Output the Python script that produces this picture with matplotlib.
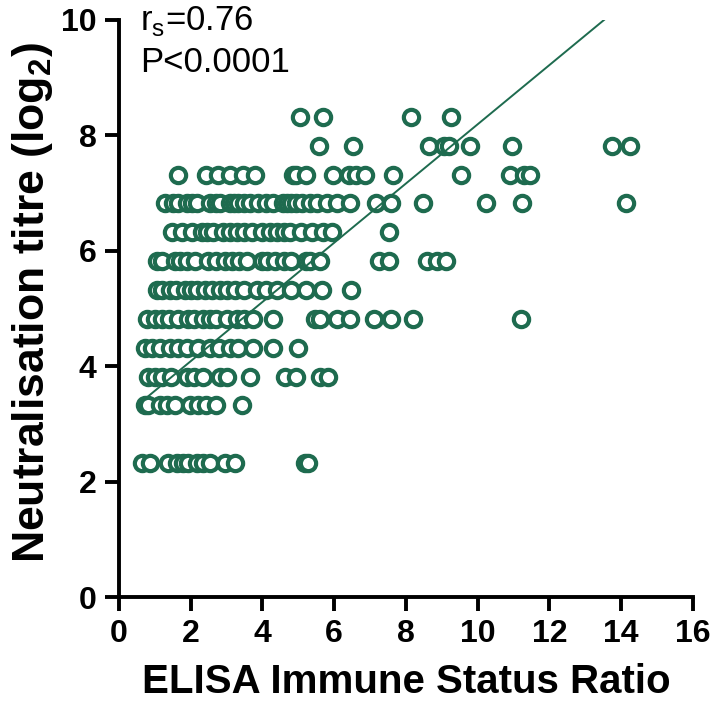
import numpy as np
import matplotlib
matplotlib.use('Agg')
import matplotlib.pyplot as plt

plt.rcParams['font.family'] = ['Liberation Sans', 'DejaVu Sans']
plt.rcParams['mathtext.fontset'] = 'custom'
plt.rcParams['mathtext.rm'] = 'Liberation Sans'
plt.rcParams['mathtext.bf'] = 'Liberation Sans:bold'

green = '#1e6b4f'

# ELISA ratio values, one list per titre level (log2)
x_832 = [5.05, 5.69, 8.14, 9.25]
x_782 = [5.58, 6.54, 8.65, 9.05, 9.2, 9.78, 10.97, 13.75, 14.25]
x_732 = [1.65, 2.44, 2.77, 3.09, 3.46, 3.79, 4.84, 4.95, 5.21, 5.96, 6.42,
         6.6, 6.87, 7.65, 9.54, 10.91, 11.3, 11.45]
x_682 = [1.28, 1.5, 1.65, 1.89, 2.05, 2.17, 2.54, 2.7, 2.82, 3.09, 3.2, 3.33,
         3.5, 3.65, 3.88, 4.1, 4.30, 4.58, 4.7, 4.81, 4.95, 5.1, 5.32, 5.51,
         5.79, 6.07, 6.44, 7.16, 7.58, 8.49, 10.24, 11.23, 14.13]
x_632 = [1.47, 1.75, 2.03, 2.31, 2.45, 2.63, 2.91, 3.1, 3.28, 3.5, 3.70,
         3.98, 4.21, 4.40, 4.6, 4.77, 5.09, 5.37, 5.69, 5.93, 7.54]
x_582 = [1.05, 1.2, 1.56, 1.70, 1.9, 2.12, 2.49, 2.7, 2.95, 3.14, 3.35, 3.56,
         3.98, 4.12, 4.35, 4.6, 4.81, 5.23, 5.32, 5.60, 7.25, 7.54, 8.58,
         8.87, 9.11]
x_532 = [1.05, 1.19, 1.42, 1.6, 1.84, 2.0, 2.17, 2.40, 2.6, 2.82, 3.00,
         3.23, 3.5, 3.84, 4.1, 4.40, 4.81, 5.23, 5.65, 6.48]
x_482 = [0.77, 1.0, 1.19, 1.4, 1.65, 1.93, 2.1, 2.35, 2.55, 2.72, 3.00,
         3.28, 3.5, 3.74, 4.30, 5.46, 5.60, 6.07, 6.44, 7.11, 7.58, 8.21, 11.2]
x_432 = [0.72, 0.91, 1.15, 1.42, 1.65, 1.89, 2.21, 2.54, 2.8, 3.09, 3.33,
         3.74, 4.30, 5.0]
x_382 = [0.82, 1.0, 1.19, 1.45, 1.89, 2.1, 2.35, 2.82, 3.0, 3.65, 4.63,
         4.95, 5.60, 5.83]
x_332 = [0.73, 0.82, 1.14, 1.35, 1.56, 1.98, 2.2, 2.44, 2.72, 3.42]
x_232 = [0.63, 0.86, 1.37, 1.61, 1.8, 1.93, 2.17, 2.35, 2.54, 2.95, 3.23,
         5.18, 5.28]

rows = {8.32: x_832, 7.82: x_782, 7.32: x_732, 6.82: x_682, 6.32: x_632,
        5.82: x_582, 5.32: x_532, 4.82: x_482, 4.32: x_432, 3.82: x_382,
        3.32: x_332, 2.32: x_232}

# regression line
slope = 0.513
intercept = 3.06
line_start = 0.68

xs = []
ys = []
for level, vals in rows.items():
    xs += vals
    ys += [level] * len(vals)

fig = plt.figure(figsize=(7.12, 7.10), dpi=100)
ax = fig.add_axes([0.167, 0.159, 0.806, 0.813])

ax.plot(xs, ys, 'o', ms=11, mew=3.0, mec=green, mfc='white', ls='none',
        clip_on=False, zorder=3)

line_end = (10 - intercept) / slope
lx = np.array([line_start, line_end])
ax.plot(lx, slope * lx + intercept, color=green, lw=1.4, zorder=4)

ax.set_xlim(0, 16)
ax.set_ylim(0, 10)
ax.set_xticks(np.arange(0, 17, 2))
ax.set_yticks(np.arange(0, 11, 2))

for s in ['top', 'right']:
    ax.spines[s].set_visible(False)
for s in ['left', 'bottom']:
    ax.spines[s].set_linewidth(2.8)
ax.tick_params(width=2.8, length=10, pad=6, labelsize=23)
for lab in ax.get_xticklabels() + ax.get_yticklabels():
    lab.set_fontweight('bold')

ax.set_xlabel('ELISA Immune Status Ratio', fontsize=29, fontweight='bold', labelpad=10)
ax.set_ylabel(r'Neutralisation titre (log$_\mathbf{2}$)', fontsize=32, fontweight='bold')
ax.yaxis.set_label_coords(-0.112, 0.51)

ax.text(0.037, 1.028, r'r$_\mathrm{s}$=0.76', transform=ax.transAxes,
        fontsize=25, va='top', ha='left')
ax.text(0.037, 0.955, 'P<0.0001', transform=ax.transAxes,
        fontsize=25, va='top', ha='left')

fig.savefig('out.png', dpi=100)
